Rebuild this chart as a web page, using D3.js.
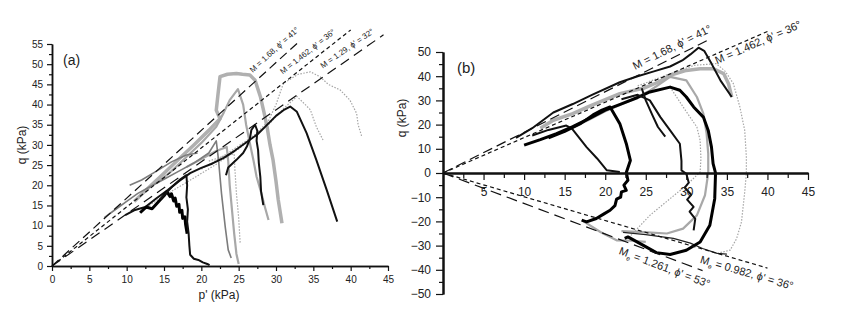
<!DOCTYPE html>
<html>
<head>
<meta charset="utf-8">
<script src="https://cdn.jsdelivr.net/npm/d3@7"></script>
<style>
  body { margin: 0; background: #fff; }
  text { font-family: "Liberation Sans", Arial, sans-serif; }
</style>
</head>
<body>
<div id="chart"></div>
<script>
// tick labels
const ticksAX = [0, 5, 10, 15, 20, 25, 30, 35, 40, 45];
const ticksAY = [0, 5, 10, 15, 20, 25, 30, 35, 40, 45, 50, 55];
const ticksBX = [5, 10, 15, 20, 25, 30, 35, 40, 45];
const ticksBY = [-50, -40, -30, -20, -10, 0, 10, 20, 30, 40, 50];

// critical state lines: slope M, drawn up to p'
const slopesA = [1.68, 1.462, 1.29];
const endsA = [33, 40, 44.4];
const labelsA = ["M = 1.68, ϕ' = 41°", "M = 1.462, ϕ' = 36°", "M = 1.29, ϕ' = 32°"];
const labelAtA = [27.6, 31.5, 36.8];

const slopesB = [1.68, 1.462, -1.261, -0.982];
const endsB = [33, 40, 32, 40];
const labelsB = ["M = 1.68, ϕ' = 41°", "M = 1.462, ϕ' = 36°", "Me = 1.261, ϕ' = 53°", "Me = 0.982, ϕ' = 36°"];
const labelAtB = [24, 33.3, 22.2, 32.1];

// stress paths (p', q) for panel (a)
const aBlk1 = [[9.8,12.6],[11,13.8],[12.5,14.6],[14,16.8],[15.5,18.8],[17,21],[18.5,23],[20,24.3],[21.5,25.4],[23,26.8],[24.5,28.6],[26,30.6],[27.5,32.6],[28.6,34.6],[30,37.2],[31,38.6],[31.9,39.5],[32.8,38.2],[34.1,32.9],[35.4,26.3],[36.8,18.8],[38.2,11]];
const aBlk2 = [[23.3,22.5],[23.6,24.4],[24.7,26.3],[25.6,28],[26.1,29.6],[26.5,31.5],[26.7,33.7],[27.2,35],[27.5,33.5],[27.4,31],[27.6,28.7],[27.7,25.5],[27.9,22.1],[28,18.5],[28.3,15.1]];
const aBlk3 = [[11.8,13.2],[12.6,14.6],[13.4,14.2],[14.2,15.8],[15,17.4],[15.4,18.4],[15.8,17.2],[16,17.9],[16.3,16.1],[16.5,16.8],[16.7,14.8],[17,15.3],[17.1,13.3],[17.4,13.8],[17.5,11.8],[17.8,12.2],[17.9,10.2],[18.1,8]];
const aBlk4 = [[14.5,16.5],[16,19.5],[17.2,21.5],[18,22.5],[18.1,20],[18,17],[18.2,14],[18.1,11],[18.3,8],[18.4,5],[18.5,2.8],[19,1.8],[19.6,1.5],[20.2,0.9],[20.8,0.5],[21.1,0.2]];
const aGry1 = [[7,12],[8.5,14],[10,16],[11.5,18],[13,19.5],[15,21.5],[17,23.5],[19,25.5],[21,28],[22,31],[22.3,26.3],[22.7,18],[23.2,9.7],[23.6,4],[24,2]];
const aGry2 = [[10.4,20],[12,21.3],[14,23.5],[16,25.8],[18,27.5],[19.5,28]];
const aLt1 = [[11,16],[13.1,19.7],[15,23],[17,26.5],[19,30],[21,33.6],[22.5,36.5],[22,38.6],[22.2,42],[22.5,46.9],[23.5,47.5],[24.7,47.7],[25.5,47.5],[26.5,47.3],[27.2,46],[27.9,42],[28.4,38],[28.8,34.5],[29.2,30],[29.6,26.3],[30,21],[30.3,16.4],[30.8,10.6]];
const aLt2 = [[14,20.5],[16,23.5],[18,27],[20,30.5],[22,34.5],[23,38],[23.8,41.1],[24.9,43.8],[25.6,40],[26,35],[26.5,30.4],[27,26],[27.4,22.1],[28,18.3],[28.5,14.7],[29,11.4]];
const aLt3 = [[18,24.5],[20,26.5],[22,28.5],[23.4,29.5],[23.6,26],[23.8,20],[24.1,14],[24.4,8],[24.7,3],[25,0.5]];
const aDot1 = [[13,15],[16,18.5],[19,21.8],[22,25.2],[25,29],[27,32],[29,36],[30,40],[31,45.3],[33,47.5],[34.6,48.1],[35.9,46.9],[37,45],[38.6,43.6],[39.9,41.1],[40.8,37.8],[41,35],[41.5,32]];
const aDot2 = [[20,24],[23,27.3],[26,31],[29,35],[31,39],[32.8,42],[33.8,40.2],[34.6,38.7],[35.4,34.5],[36.3,31.2]];
const aDot3 = [[21,26],[23,27.2],[24.4,27.8],[24.5,23.8],[24.7,18],[25,12],[25.2,5.7]];

// stress paths (p', q) for panel (b)
const bBlk1 = [[9,14.5],[11,18.5],[13.6,25],[16,28.5],[18.5,32.5],[21.8,37.5],[24,40],[26,42],[28,44],[29.5,46.5],[30.5,49],[31.5,51.8],[32.2,50.5],[33.1,45.2],[34.2,38.3],[35.6,31.4]];
const bBlk2 = [[10,11.5],[12,13.8],[14,16.3],[16,19.2],[18,22.5],[20,26],[22,28.6],[24,31.2],[25.5,33.5],[28,35.5],[29.2,34.2],[30,31.4],[30.9,27.3],[32.1,23.1],[32.7,17.6],[33.1,10.7],[33.3,3.9],[33.6,0],[33.5,-10.6],[32.9,-21.6],[31.7,-28.5],[30,-31.9],[28,-33.7],[26.3,-32.9],[24.7,-29.9],[22.8,-26.4],[22.4,-27]];
const bBlk3 = [[11,15.5],[13,17.8],[15.2,19.6],[15.9,18.3],[17.7,10.7],[19,6],[20.2,1.1],[21.8,0.4]];
const bBlk4 = [[13,14.5],[15,17.2],[17,20.5],[18.5,24],[19.6,26],[20.6,27.3],[21.8,20.4],[22.6,12.1],[23.1,5.2],[22.6,0.2],[22.8,-3],[22.3,-5],[22.6,-7.2],[22,-7.8],[21.9,-10],[21.4,-10.8],[21.2,-13.5],[20.6,-15.4],[19.8,-17],[18.9,-18.8],[17.7,-20.2],[17.1,-19.5]];
const bBlk5 = [[22,30.5],[24,32.3],[25.5,30],[26.8,23.1],[28,17.6],[29.2,12.1],[29.4,5],[29.4,1.1],[30,-0.3],[30.3,-4],[29.8,-6],[30.6,-9],[30.1,-11],[30.9,-14],[30.4,-16],[31.1,-19],[30.9,-23.7]];
const bBlk6 = [[24.5,35],[25,30],[25.8,24],[26.5,19],[27.4,15]];
const bBlk7 = [[22.2,-24.5],[25,-25.5],[28.4,-27],[30.5,-29],[32,-31.2],[33.8,-33.2],[35,-33.5]];
const bLt1 = [[12,18.5],[13.6,21.8],[16,24.5],[18,27.5],[21.8,32.8],[24.7,35],[26.5,37.5],[28,40.4],[30,42.4],[31.7,43.1],[33.3,43.1],[34.6,41.1],[35.2,36.9],[35.6,31.4]];
const bLt2 = [[15.7,18.3],[18,22],[20,25.5],[23.1,30],[25.5,34],[28,39.7],[30,38.3],[31.3,31.4],[32.1,24.5],[32.5,16.3],[32.7,8],[32.7,0],[32.3,-9.2],[31.3,-17.5],[29.6,-23],[27.6,-25],[24.7,-24.4],[22,-24]];
const bLt3 = [[17.1,-19.5],[19.4,-24.4],[21.4,-27.8],[23.4,-28],[25,-28.5]];
const bDot1 = [[24,36],[28,41],[31,44.5],[33.7,45.2],[34.8,42],[35.8,36.9],[36.6,27.3],[37.2,17.6],[37.4,6.6],[37.4,-0.2],[37.2,-7.8],[36.8,-20.2],[36.2,-27.1],[35.4,-31.9],[33.8,-33.2]];
const bDot2 = [[28,35.5],[29.6,27.3],[31.3,19],[31.7,13.5],[31.8,6],[31.7,0.4],[30,-5.1],[28,-10.6],[25.5,-17.5],[23,-26.4]];

// how each path is drawn
const styles = {
  blk: { stroke: "#111", width: 2, dash: null },
  blkThick: { stroke: "#000", width: 3, dash: null },
  blkThin: { stroke: "#222", width: 1.3, dash: null },
  gry: { stroke: "#7c7c7c", width: 1.6, dash: null },
  lt: { stroke: "#a8a8a8", width: 2.2, dash: null },
  ltThick: { stroke: "#b0b0b0", width: 3.5, dash: null },
  dot: { stroke: "#a5a5a5", width: 1.2, dash: "1.5,1.5" }
};

const pathsA = [
  [aDot1, "dot"], [aDot2, "dot"], [aDot3, "dot"],
  [aLt1, "ltThick"], [aLt2, "lt"], [aLt3, "lt"],
  [aGry1, "gry"], [aGry2, "gry"],
  [aBlk1, "blk"], [aBlk2, "blk"], [aBlk3, "blkThick"], [aBlk4, "blk"]
];
const pathsB = [
  [bDot1, "dot"], [bDot2, "dot"],
  [bLt1, "ltThick"], [bLt2, "lt"], [bLt3, "lt"],
  [bBlk7, "blkThin"], [bBlk1, "blk"], [bBlk2, "blkThick"], [bBlk3, "blk"],
  [bBlk4, "blkThick"], [bBlk5, "blk"], [bBlk6, "blk"]
];

const dashA = ["9,5", "4,3", "10,6"];
const dashB = ["10,5", "4,3", "11,6", "4,3"];

let svg = d3.select("#chart").append("svg").attr("width", 841).attr("height", 311);

let xA = d3.scaleLinear().domain([0, 45]).range([52, 388]);
let yA = d3.scaleLinear().domain([0, 55]).range([266, 44]);
let xB = d3.scaleLinear().domain([0, 45]).range([443, 808]);
let yB = d3.scaleLinear().domain([-50, 50]).range([294, 52]);

function styleAxis(g, size, width) {
  g.selectAll("text").style("font-size", size + "px").attr("fill", "#222");
  g.selectAll("line").attr("stroke", "#111").attr("stroke-width", 1.2);
  g.select(".domain").attr("stroke", "#111").attr("stroke-width", width);
}

function drawPaths(x, y, paths) {
  let line = d3.line().x(d => x(d[0])).y(d => y(d[1]));
  paths.forEach(function (p) {
    let s = styles[p[1]];
    svg.append("path")
      .attr("d", line(p[0]))
      .attr("fill", "none")
      .attr("stroke", s.stroke)
      .attr("stroke-width", s.width)
      .attr("stroke-dasharray", s.dash)
      .attr("stroke-linejoin", "round");
  });
}

function drawCsl(x, y, slopes, ends, labels, at, dashes, size, offsets) {
  slopes.forEach(function (m, i) {
    svg.append("path")
      .attr("d", d3.line().x(d => x(d)).y(d => y(m * d))([0, ends[i]]))
      .attr("fill", "none")
      .attr("stroke", "#111")
      .attr("stroke-width", 1.2)
      .attr("stroke-dasharray", dashes[i]);

    let ang = Math.atan2(y(m) - y(0), x(1) - x(0)) * 180 / Math.PI;
    let t = svg.append("text")
      .attr("transform", "translate(" + x(at[i]) + "," + y(m * at[i]) + ") rotate(" + ang + ")")
      .attr("dy", offsets[i])
      .style("font-size", size + "px")
      .attr("fill", "#222");
    let txt = labels[i];
    if (txt.startsWith("Me")) {
      t.append("tspan").text("M");
      t.append("tspan").attr("dy", 3).style("font-size", (size * 0.6) + "px").text("e");
      t.append("tspan").attr("dy", -3).text(txt.slice(2));
    } else {
      t.text(txt);
    }
  });
}

// ---- panel (a) ----
drawPaths(xA, yA, pathsA);
drawCsl(xA, yA, slopesA, endsA, labelsA, labelAtA, dashA, 8, [-8, -7, -7]);

svg.append("g").attr("transform", "translate(0,266)")
  .call(d3.axisBottom(xA).tickValues(d3.range(2.5, 45, 5)).tickSize(3).tickFormat("").tickSizeOuter(0))
  .call(g => styleAxis(g, 10, 1.5));
svg.append("g").attr("transform", "translate(0,266)")
  .call(d3.axisBottom(xA).tickValues(ticksAX).tickSize(5).tickPadding(5).tickSizeOuter(0))
  .call(g => styleAxis(g, 10, 1.5));
svg.append("g").attr("transform", "translate(52,0)")
  .call(d3.axisLeft(yA).tickValues(d3.range(2.5, 55, 5)).tickSize(3).tickFormat("").tickSizeOuter(0))
  .call(g => styleAxis(g, 10, 1.5));
svg.append("g").attr("transform", "translate(52,0)")
  .call(d3.axisLeft(yA).tickValues(ticksAY).tickSize(5).tickPadding(4).tickSizeOuter(0))
  .call(g => styleAxis(g, 10, 1.5));

svg.append("text").attr("x", 219).attr("y", 299).attr("text-anchor", "middle")
  .style("font-size", "12px").attr("fill", "#222").text("p' (kPa)");
svg.append("text").attr("transform", "translate(26,145) rotate(-90)").attr("text-anchor", "middle")
  .style("font-size", "12px").attr("fill", "#222").text("q (kPa)");
svg.append("text").attr("x", 63).attr("y", 65)
  .style("font-size", "14px").attr("fill", "#222").text("(a)");

// ---- panel (b) ----
drawPaths(xB, yB, pathsB);
drawCsl(xB, yB, slopesB, endsB, labelsB, labelAtB, dashB, 11, [-6, 10, 14, 14]);

svg.append("g").attr("transform", "translate(0," + yB(0) + ")")
  .call(d3.axisBottom(xB).tickValues(d3.range(2.5, 45, 5)).tickSize(5).tickFormat("").tickSizeOuter(0))
  .call(g => styleAxis(g, 12, 2));
svg.append("g").attr("transform", "translate(0," + yB(0) + ")")
  .call(d3.axisBottom(xB).tickValues(ticksBX).tickSize(7).tickPadding(7).tickSizeOuter(0))
  .call(g => styleAxis(g, 12, 2));
svg.append("g").attr("transform", "translate(443,0)")
  .call(d3.axisLeft(yB).tickValues(d3.range(-45, 50, 10)).tickSize(4).tickFormat("").tickSizeOuter(0))
  .call(g => styleAxis(g, 12, 2));
svg.append("g").attr("transform", "translate(443,0)")
  .call(d3.axisLeft(yB).tickValues(ticksBY).tickSize(7).tickPadding(5).tickSizeOuter(0))
  .call(g => styleAxis(g, 12, 2));

svg.append("text").attr("transform", "translate(406,118) rotate(-90)").attr("text-anchor", "middle")
  .style("font-size", "12px").attr("fill", "#222").text("q (kPa)");
svg.append("text").attr("x", 457).attr("y", 73)
  .style("font-size", "15px").attr("fill", "#222").text("(b)");
</script>
</body>
</html>
